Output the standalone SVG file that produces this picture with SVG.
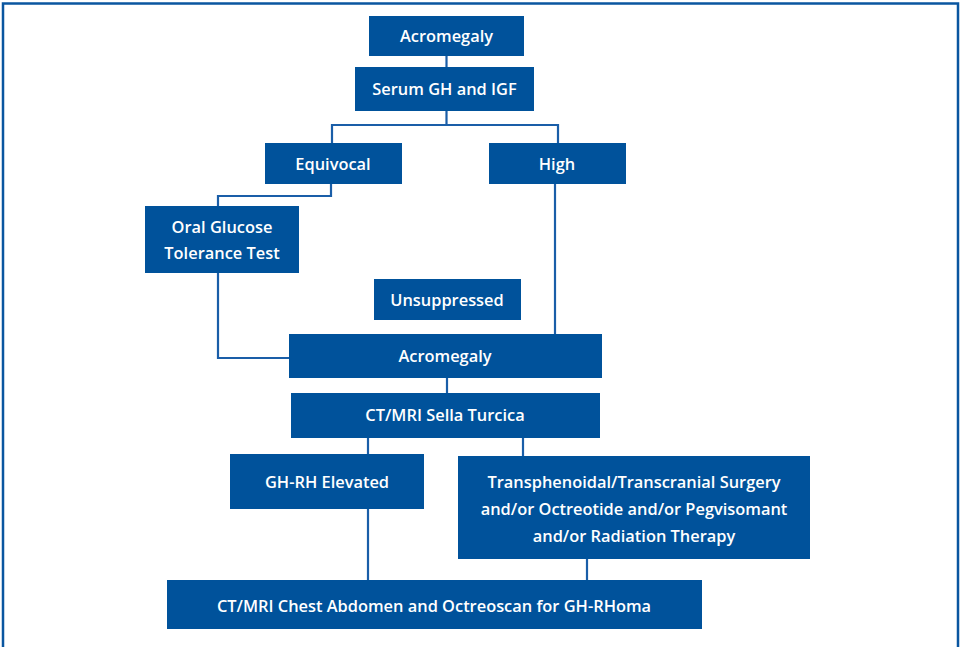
<svg xmlns="http://www.w3.org/2000/svg" width="961" height="647" viewBox="0 0 961 647">
<style>
.box{fill:#00529b}
.t{fill:#ffffff;font-family:"Open Sans","Liberation Sans",sans-serif;font-weight:600;font-size:16.4px;text-anchor:middle}
.c{fill:none;stroke:#1a5ea8;stroke-width:2.2}
</style>
<rect x="0" y="0" width="961" height="647" fill="#ffffff"/>
<path d="M3,647 V3.5 H958 V647" fill="none" stroke="#0a56a0" stroke-width="2.5"/>
<g id="connectors" class="c">
<path d="M446.5,56 V67"/>
<path d="M446.5,111 V125 M332,143 V125 H558 V143"/>
<path d="M331,184 V196 H218 V206"/>
<path d="M218,273 V358 H289"/>
<path d="M555,184 V334"/>
<path d="M447,378 V393"/>
<path d="M368,438 V454"/>
<path d="M523,438 V456"/>
<path d="M368,509 V580"/>
<path d="M587,559 V580"/>
</g>
<g id="n1"><rect class="box" x="369" y="16" width="155" height="40"/><text class="t" x="446.5" y="42">Acromegaly</text></g>
<g id="n2"><rect class="box" x="355" y="67" width="179" height="44"/><text class="t" x="444.5" y="95">Serum GH and IGF</text></g>
<g id="n3"><rect class="box" x="265" y="143" width="137" height="41"/><text class="t" x="333" y="170">Equivocal</text></g>
<g id="n4"><rect class="box" x="489" y="143" width="137" height="41"/><text class="t" x="557" y="170">High</text></g>
<g id="n5"><rect class="box" x="145" y="206" width="154" height="67"/><text class="t" x="222" y="233">Oral Glucose</text><text class="t" x="222" y="259">Tolerance Test</text></g>
<g id="n6"><rect class="box" x="374" y="279" width="147" height="41"/><text class="t" x="447" y="306">Unsuppressed</text></g>
<g id="n7"><rect class="box" x="289" y="334" width="313" height="44"/><text class="t" x="445" y="362">Acromegaly</text></g>
<g id="n8"><rect class="box" x="291" y="393" width="309" height="45"/><text class="t" x="445" y="421">CT/MRI Sella Turcica</text></g>
<g id="n9"><rect class="box" x="230" y="454" width="194" height="55"/><text class="t" x="327" y="488">GH-RH Elevated</text></g>
<g id="n10"><rect class="box" x="458" y="456" width="352" height="103"/><text class="t" x="634" y="488">Transphenoidal/Transcranial Surgery</text><text class="t" x="634" y="515">and/or Octreotide and/or Pegvisomant</text><text class="t" x="634" y="542">and/or Radiation Therapy</text></g>
<g id="n11"><rect class="box" x="167" y="580" width="535" height="49"/><text class="t" x="434" y="612">CT/MRI Chest Abdomen and Octreoscan for GH-RHoma</text></g>
</svg>
